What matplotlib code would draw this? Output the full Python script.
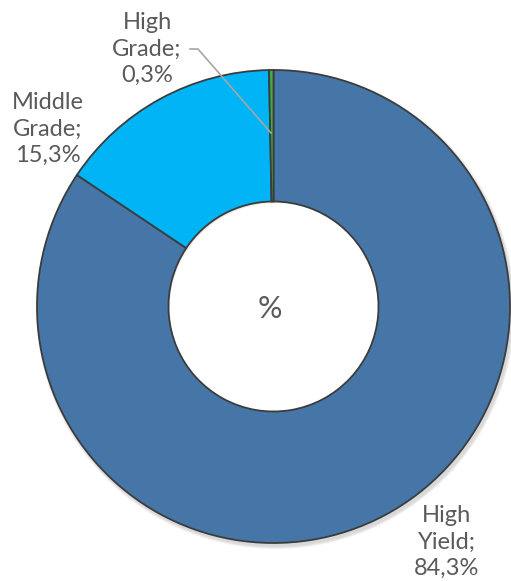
import matplotlib.pyplot as plt

# donut data (clockwise from 12 o'clock)
labels = ["High\nYield;\n84,3%", "Middle\nGrade;\n15,3%", "High\nGrade;\n0,3%"]
values = [84.3, 15.3, 0.3]
colors = ["#4676a8", "#00b4f5", "#3fae49"]

W, H = 511, 581
fig = plt.figure(figsize=(W / 100, H / 100), dpi=100)
ax = fig.add_axes([0, 0, 1, 1])

cx, cy, r = 273.5, 306.5, 236.5

# soft shadow
for k in range(3):
    ax.pie([1], radius=r + 1 + k, center=(cx + 2, cy + 3), colors=["#000000"],
           wedgeprops=dict(width=r - 105, alpha=0.05, linewidth=0))

wedges, _ = ax.pie(values, radius=r, center=(cx, cy), colors=colors,
                   startangle=-90, counterclock=True,
                   wedgeprops=dict(width=r - 105, edgecolor="#3c3c3c", linewidth=1.3))
ax.set_xlim(0, W)
ax.set_ylim(H, 0)
ax.set_aspect("equal")
ax.axis("off")

txt = dict(color="#5a5a5a", fontsize=17, family="Lato", fontweight="normal",
           ha="center", va="center", linespacing=1.3)
ax.text(447, 542, labels[0], **txt)
ax.text(48, 129, labels[1], **txt)
ax.text(147, 49, labels[2], **txt)
ax.text(270, 309, "%", color="#5a5a5a", fontsize=22, family="Lato",
        ha="center", va="center")

# leader line for the tiny slice
ax.plot([190, 198, 271], [49, 49, 133], color="#a6a6a6", linewidth=1.2)

fig.savefig("out.png", dpi=100)
